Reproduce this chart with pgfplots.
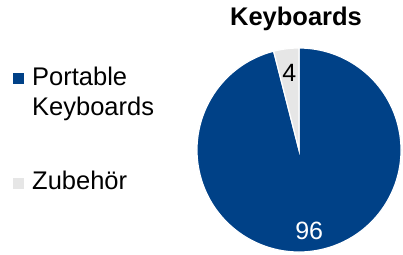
\documentclass[border=0pt]{standalone}
\usepackage{fontspec}
\setmainfont{Liberation Sans}
\usepackage{pgfplots}
\usepackage{pgfplotstable}
\pgfplotsset{compat=1.18}
\definecolor{kbblue}{RGB}{0,65,135}
\definecolor{kbgray}{RGB}{230,230,230}
\pgfplotstableread{
label value
Portable 96
Zubehoer 4
}\piedata
\begin{document}
\begin{tikzpicture}[x=1pt,y=1pt]
\useasboundingbox (0pt,0pt) rectangle (403pt,254pt);
\pgfplotstablegetelem{0}{value}\of\piedata \let\va\pgfplotsretval
\pgfplotstablegetelem{1}{value}\of\piedata \let\vb\pgfplotsretval
\pgfmathsetmacro{\tot}{\va+\vb}
\pgfmathsetmacro{\fa}{\va/\tot}
\pgfmathsetmacro{\fb}{\vb/\tot}
\pgfmathsetmacro{\angb}{90+360*\fb}
\pgfmathsetmacro{\anga}{450}
\pgfmathsetmacro{\midb}{90+180*\fb}
\pgfmathsetmacro{\mida}{\angb+180*\fa}
\begin{axis}[
  at={(197pt,2pt)}, anchor=south west,
  width=204pt, height=204pt, scale only axis,
  xmin=-1, xmax=1, ymin=-1, ymax=1,
  hide axis, clip=false,
  /pgf/number format/assume math mode=true,
]
\fill[kbblue, draw=white, line width=1.2pt] (axis cs:0,0) -- (axis cs:{cos(\angb)},{sin(\angb)}) arc[start angle=\angb, end angle=\anga, radius=102pt] -- cycle;
\fill[kbgray, draw=white, line width=1.2pt] (axis cs:0,0) -- (axis cs:0,1) arc[start angle=90, end angle=\angb, radius=102pt] -- cycle;
\node[font=\fontsize{25}{29}\selectfont, text=black] at (axis cs:{0.76*cos(\midb)},{0.76*sin(\midb)}) {\pgfmathprintnumber[assume math mode=true]{\vb}};
\node[font=\fontsize{25}{29}\selectfont, text=white] at (axis cs:{0.8*cos(\mida)},{0.8*sin(\mida)}) {\pgfmathprintnumber[assume math mode=true]{\va}};
\end{axis}
\node[anchor=base, font=\fontsize{25.5}{29}\selectfont\bfseries] at (296pt,228pt) {Keyboards};
\fill[kbblue] (13pt,170pt) rectangle (24pt,181pt);
\node[anchor=base west, inner sep=0pt, font=\fontsize{25.5}{29}\selectfont] at (32pt,168pt) {Portable};
\node[anchor=base west, inner sep=0pt, font=\fontsize{25.5}{29}\selectfont] at (32pt,138pt) {Keyboards};
\fill[kbgray] (13pt,65pt) rectangle (24pt,76pt);
\node[anchor=base west, inner sep=0pt, font=\fontsize{25.5}{29}\selectfont] at (32pt,65pt) {Zubehör};
\end{tikzpicture}
\end{document}
